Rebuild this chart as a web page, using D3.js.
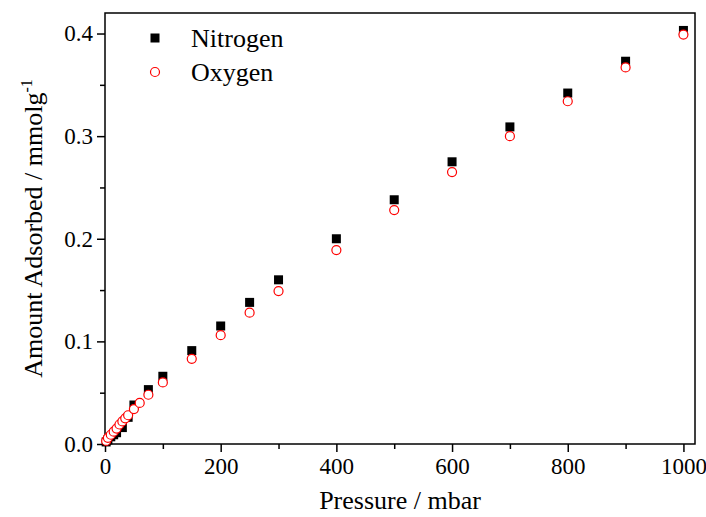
<!DOCTYPE html>
<html>
<head>
<meta charset="utf-8">
<script src="https://cdn.jsdelivr.net/npm/d3@7"></script>
<style>
html,body{margin:0;padding:0;background:#fff;}
svg{display:block;font-family:"Liberation Serif","Times New Roman",serif;}
</style>
</head>
<body>
<svg id="chart" width="706" height="517"></svg>
<script>
// ── data ──
const n2Pressure=[2,5,10,15,20,30,40,50,75,100,150,200,250,300,400,500,600,700,800,900,1000];
const n2Amount  =[0.002,0.004,0.007,0.009,0.011,0.016,0.026,0.038,0.053,0.066,0.091,0.115,0.138,0.160,0.200,0.238,0.275,0.309,0.342,0.373,0.403];
const o2Pressure=[2,5,10,15,20,25,30,35,40,50,60,75,100,150,200,250,300,400,500,600,700,800,900,1000];
const o2Amount  =[0.003,0.006,0.009,0.012,0.015,0.019,0.022,0.025,0.028,0.034,0.040,0.048,0.060,0.083,0.106,0.128,0.149,0.189,0.228,0.265,0.300,0.334,0.367,0.399];
const xTicks=[0,200,400,600,800,1000];
const yTicks=[0.0,0.1,0.2,0.3,0.4];
const legendNames=['Nitrogen','Oxygen'];

const W=706,H=517;
const M={l:105,r:11,t:13,b:73};
const svg=d3.select('#chart');

const x=d3.scaleLinear().domain([0,1020]).range([M.l,W-M.r]);
const y=d3.scaleLinear().domain([0,0.42]).range([H-M.b,M.t]);

const g=svg.append('g');

// frame
g.append('rect').attr('x',M.l).attr('y',M.t).attr('width',W-M.r-M.l).attr('height',H-M.b-M.t)
  .attr('fill','none').attr('stroke','#000').attr('stroke-width',1.5);

// axes: major + minor ticks pointing outward
g.append('g').attr('transform',`translate(0,${H-M.b})`)
  .call(d3.axisBottom(x).tickValues(xTicks).tickFormat(d3.format('d')).tickSize(8).tickPadding(6));
g.append('g').attr('transform',`translate(0,${H-M.b})`)
  .call(d3.axisBottom(x).tickValues(d3.range(100,1001,200)).tickFormat('').tickSize(5));

g.append('g').attr('transform',`translate(${M.l},0)`)
  .call(d3.axisLeft(y).tickValues(yTicks).tickFormat(d3.format('.1f')).tickSize(8).tickPadding(4));
g.append('g').attr('transform',`translate(${M.l},0)`)
  .call(d3.axisLeft(y).tickValues([0.05,0.15,0.25,0.35]).tickFormat('').tickSize(5));

g.selectAll('.domain').remove();
g.selectAll('.tick line').attr('stroke','#000').attr('stroke-width',1.5);
g.selectAll('.tick text').attr('fill','#000').attr('font-family','"Liberation Serif",serif')
  .attr('font-size',23);

// axis titles
svg.append('text').attr('x',(M.l+W-M.r)/2).attr('y',509).attr('text-anchor','middle')
  .style('font-size','26px').text('Pressure / mbar');
const yt=svg.append('text').attr('transform',`translate(42,${(M.t+H-M.b)/2}) rotate(-90)`)
  .attr('text-anchor','middle').style('font-size','26px');
yt.append('tspan').text('Amount Adsorbed / mmolg');
yt.append('tspan').attr('dy',-10).style('font-size','16px').text('-1');

// data
const S=9,R=4.5;
const n2=n2Pressure.map((p,i)=>[p,n2Amount[i]]);
const o2=o2Pressure.map((p,i)=>[p,o2Amount[i]]);

svg.append('g').selectAll('rect').data(n2).join('rect')
  .attr('x',d=>x(d[0])-S/2).attr('y',d=>y(d[1])-S/2)
  .attr('width',S).attr('height',S).attr('fill','#000');

svg.append('g').selectAll('circle').data(o2).join('circle')
  .attr('cx',d=>x(d[0])).attr('cy',d=>y(d[1])).attr('r',R)
  .attr('fill','#fff').attr('stroke','#ff0000').attr('stroke-width',1.2);

// legend
const lg=svg.append('g');
lg.append('rect').attr('x',155-S/2).attr('y',38-S/2).attr('width',S).attr('height',S).attr('fill','#000');
lg.append('circle').attr('cx',155).attr('cy',72).attr('r',R)
  .attr('fill','#fff').attr('stroke','#ff0000').attr('stroke-width',1.2);
lg.selectAll('text').data(legendNames).join('text')
  .attr('x',191).attr('y',(d,i)=>47+i*34).style('font-size','26px').text(d=>d);
</script>
</body>
</html>
